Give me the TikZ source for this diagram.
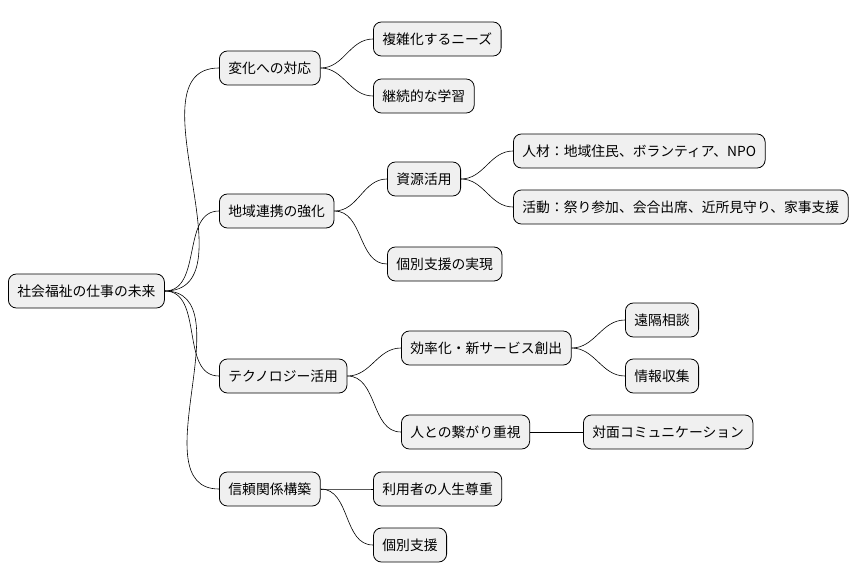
\documentclass[tikz,border=0pt]{standalone}
\usepackage{fontspec}
\setmainfont{Noto Sans CJK JP}
\begin{document}
\begin{tikzpicture}[x=1pt,y=-1pt,
      every node/.style={draw, rounded corners=8pt, fill=gray!12, anchor=west,
        minimum height=34pt, inner xsep=9pt, font=\fontsize{13.8}{15}\selectfont, line width=0.8pt},
      link/.style={line width=0.6pt},]
      \useasboundingbox (0,0) rectangle (866,583);
      \node (root) at (8,291) {社会福祉の仕事の未来};
      \node (change) at (219,68) {変化への対応};
      \node (needs) at (373,39) {複雑化するニーズ};
      \node (learn) at (373,96) {継続的な学習};
      \node (region) at (219,211) {地域連携の強化};
      \node (res) at (387,179) {資源活用};
      \node (people) at (513,151) {人材：地域住民、ボランティア、NPO};
      \node (act) at (513,207) {活動：祭り参加、会合出席、近所見守り、家事支援};
      \node (indiv) at (387,264) {個別支援の実現};
      \node (tech) at (219,376) {テクノロジー活用};
      \node (eff) at (401,348) {効率化・新サービス創出};
      \node (remote) at (625,320) {遠隔相談};
      \node (info) at (625,376) {情報収集};
      \node (tie) at (401,432) {人との繋がり重視};
      \node (face) at (583,432) {対面コミュニケーション};
      \node (trust) at (219,489) {信頼関係構築};
      \node (life) at (373,489) {利用者の人生尊重};
      \node (supp) at (373,545) {個別支援};
      % connectors
      \foreach \a/\b in {root/change,root/region,root/tech,root/trust,
          change/needs,change/learn,region/res,region/indiv,res/people,res/act,
          tech/eff,tech/tie,eff/remote,eff/info,trust/life,trust/supp}
        \draw[link] (\a.east) to[out=0,in=180] (\b.west);
      \draw[link] (tie) -- (face);
\end{tikzpicture}
\end{document}
